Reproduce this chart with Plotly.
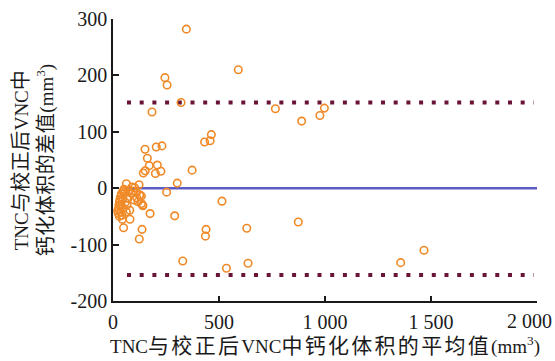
import plotly.graph_objects as go

# Bland-Altman data: mean of the two measurements (x) and their difference (y)
mean_vals = [346, 591, 245, 255, 321, 184, 766, 890, 976, 997,
             464, 458, 432, 231, 204, 151, 162, 171, 209, 226,
             200, 152, 143, 373, 303, 253, 514, 175, 291, 874,
             50, 137, 439, 436, 631, 124, 329, 535, 637, 80,
             44, 1357, 1467,
             63, 90, 102, 123, 74, 47, 55, 86, 110, 126,
             134, 36, 46, 71, 99, 118, 134, 141, 31, 39,
             27, 47, 36, 42, 63, 79, 127, 140, 22, 25,
             30, 28, 33, 40, 52, 58, 66, 95, 112]
diff_vals = [282, 210, 196, 183, 152, 135, 141, 119, 129, 142,
             95, 84, 82, 75, 73, 69, 53, 40, 41, 30,
             26, 31, 27, 32, 9, -7, -23, -45, -49, -60,
             -70, -73, -73, -85, -71, -90, -129, -142, -133, -55,
             -55, -132, -110,
             8, 2, 1, 6, -4, -6, -9, -9, -8, -12,
             -14, -15, -18, -18, -21, -24, -27, -31, -24, -30,
             -36, -36, -42, -48, -42, -39, -12, -30, -40, -45,
             -50, -30, -20, -10, -2, -25, -30, -5, -17]

mean_diff = 0
upper_loa = 152
lower_loa = -154

x_tickvals = [0, 500, 1000, 1500, 2000]
x_ticktext = ["0", "500", "1 000", "1 500", "2 000"]
y_tickvals = [-200, -100, 0, 100, 200, 300]
y_ticktext = ["-200", "-100", "0", "100", "200", "300"]


def cjk(s, size=21, spacing=1.5):
    return f"<span style='font-size:{size}px;letter-spacing:{spacing}px'>{s}</span>"


x_title = ("TNC" + cjk("与校正后", 21, 2.3) + "VNC" + cjk("中钙化体积的平均值", 21, 2.3)
           + "(mm<sup>3</sup>)")
y_title = ("TNC" + cjk("与校正后", 20, 0.5) + "VNC" + cjk("中", 20, 0.5) + "<br>"
           + cjk("钙化体积的差值", 20, 0.5) + "(mm<sup>3</sup>)")

FONT = "Liberation Serif, Times New Roman, Noto Sans CJK SC, serif"
ORANGE = "#F08A28"
MAROON = "#6A1538"
BLUE = "#5B5CC4"
INK = "#1a1a1a"

fig = go.Figure()

for lim in (upper_loa, lower_loa):
    fig.add_trace(go.Scatter(
        x=[66, 1985], y=[lim, lim], mode="lines",
        line=dict(color=MAROON, width=4, dash="4px,8.7px"),
        hoverinfo="skip", showlegend=False))

fig.add_trace(go.Scatter(
    x=[60, 2000], y=[mean_diff, mean_diff], mode="lines",
    line=dict(color=BLUE, width=2.5), showlegend=False))

fig.add_trace(go.Scatter(
    x=mean_vals, y=diff_vals, mode="markers",
    marker=dict(symbol="circle-open", size=7.5, color=ORANGE,
                line=dict(width=1.6, color=ORANGE)),
    showlegend=False))

fig.update_layout(
    width=555, height=361,
    margin=dict(l=113, r=18, t=19, b=60),
    paper_bgcolor="white", plot_bgcolor="white",
    font=dict(family=FONT, size=20, color=INK),
)

# the last tick label sits against the right edge, so it is drawn as an
# annotation nudged left to stay inside the page
shown_ticktext = x_ticktext[:-1] + [""]

fig.update_xaxes(
    range=[0, 2000], tickvals=x_tickvals, ticktext=shown_ticktext,
    ticks="inside", ticklen=5, tickwidth=1.5, tickcolor=INK,
    showline=True, linecolor=INK, linewidth=1.5,
    showgrid=False, zeroline=False, automargin=False,
    tickfont=dict(size=20), ticklabelstandoff=2,
    title=dict(text=x_title, font=dict(size=19), standoff=6),
)
fig.add_annotation(
    x=x_tickvals[-1], xref="x", y=0, yref="paper",
    text=x_ticktext[-1], showarrow=False,
    xanchor="right", yanchor="middle", xshift=17, yshift=-20,
    font=dict(size=20, family=FONT, color=INK),
)
fig.update_yaxes(
    range=[-200, 300], tickvals=y_tickvals, ticktext=y_ticktext,
    ticks="inside", ticklen=6, tickwidth=1.5, tickcolor=INK,
    showline=True, linecolor=INK, linewidth=1.5,
    showgrid=False, zeroline=False, automargin=False,
    tickfont=dict(size=20),
    title=dict(text=y_title, font=dict(size=19), standoff=12),
)

fig.write_html("out.html")
